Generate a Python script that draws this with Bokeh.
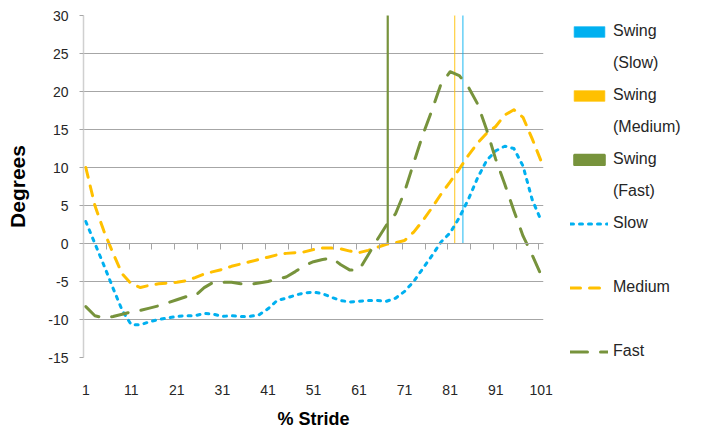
from bokeh.plotting import figure
from bokeh.models import Range1d, FixedTicker, LinearAxis, Legend, LegendItem, ColumnDataSource
from bokeh.embed import file_html
from bokeh.resources import INLINE

# ---- data -----------------------------------------------------------------
stride = list(range(1, 102, 2))  # % stride sample positions

slow = [2.9, 0.0, -2.9, -5.9, -8.8, -10.7, -10.7, -10.3, -10.0, -9.8,
        -9.6, -9.5, -9.5, -9.2, -9.3, -9.6, -9.5, -9.6, -9.6, -9.4,
        -8.6, -7.5, -7.2, -6.8, -6.5, -6.4, -6.6, -7.1, -7.5, -7.7,
        -7.6, -7.5, -7.5, -7.6, -7.2, -6.3, -5.0, -3.3, -1.6, 0.2,
        1.4, 3.4, 5.8, 8.6, 10.9, 12.2, 12.8, 12.5, 10.2, 5.8,
        3.0]

medium = [10.0, 5.0, 1.6, -1.3, -4.0, -5.3, -5.8, -5.5, -5.3, -5.2,
          -5.1, -4.9, -4.5, -4.0, -3.7, -3.4, -3.0, -2.7, -2.4, -2.1,
          -1.8, -1.5, -1.3, -1.2, -1.1, -0.8, -0.6, -0.6, -0.7, -1.0,
          -1.2, -0.9, -0.5, -0.1, 0.1, 0.4, 1.5, 3.0, 4.7, 6.5,
          8.1, 9.8, 11.6, 13.2, 14.5, 15.4, 16.9, 17.6, 16.6, 13.8,
          10.8]

fast = [-8.3, -9.5, -9.8, -9.6, -9.3, -9.0, -8.8, -8.5, -8.2, -7.8,
        -7.4, -7.0, -6.9, -5.8, -5.1, -5.1, -5.1, -5.3, -5.4, -5.2,
        -5.0, -4.7, -4.4, -3.7, -2.9, -2.4, -2.1, -1.9, -2.8, -3.5,
        -3.5, -1.5, 0.5, 2.4, 3.9, 6.8, 10.6, 14.3, 17.5, 21.0,
        22.6, 22.1, 20.6, 18.4, 15.0, 11.1, 7.8, 4.3, 1.0, -1.5,
        -4.2]

swing_names = ["(Slow)", "(Medium)", "(Fast)"]
swing_stride = [83.8, 82.0, 67.3]
swing_bottom = [0, 0, 0]
swing_top = [30, 30, 30]

x_tick_labels = [1, 11, 21, 31, 41, 51, 61, 71, 81, 91, 101]
x_tick_marks = [5.5, 10.5, 15.5, 20.5, 25.5, 30.5, 35.5, 40.5, 45.5, 50.5,
                55.5, 60.5, 65.5, 70.5, 75.5, 80.5, 85.5, 90.5, 95.5, 100.5]
y_ticks = [-15, -10, -5, 0, 5, 10, 15, 20, 25, 30]

# ---- style ----------------------------------------------------------------
BLUE = "#00B0F0"
ORANGE = "#FFC000"
GREEN = "#77933C"
GRID = "#A6A6A6"
FONT = "Liberation Sans"
TXT = "#262626"

p = figure(frame_width=460, frame_height=342,
           x_range=Range1d(0.5, 101.5), y_range=Range1d(-15, 30),
           output_backend="svg", toolbar_location=None,
           min_border_left=83, min_border_right=149,
           min_border_top=15, min_border_bottom=75)
p.outline_line_color = None
p.background_fill_color = "white"
p.border_fill_color = "white"

p.xgrid.visible = False
p.ygrid.ticker = FixedTicker(ticks=y_ticks)
p.ygrid.grid_line_color = GRID
p.ygrid.grid_line_width = 1

# y axis
p.yaxis.ticker = FixedTicker(ticks=y_ticks)
p.yaxis.major_label_overrides = {t: str(t) for t in y_ticks}
p.yaxis.axis_line_color = "#D0D0D0"
p.yaxis.axis_line_width = 1.5
p.yaxis.major_tick_out = 4
p.yaxis.major_tick_in = 0
p.yaxis.major_tick_line_color = GRID
p.yaxis.minor_tick_line_color = None
p.yaxis.major_label_standoff = 11
p.yaxis.major_label_text_font = FONT
p.yaxis.major_label_text_font_size = "14px"
p.yaxis.major_label_text_color = TXT
p.yaxis.axis_label = "Degrees"
p.yaxis.axis_label_text_font = FONT
p.yaxis.axis_label_text_font_style = "bold"
p.yaxis.axis_label_text_font_size = "21px"
p.yaxis.axis_label_text_color = "black"
p.yaxis.axis_label_standoff = 16

# x axis (labels only)
p.xaxis.ticker = FixedTicker(ticks=x_tick_labels)
p.xaxis.axis_line_color = None
p.xaxis.major_tick_line_color = None
p.xaxis.minor_tick_line_color = None
p.xaxis.major_tick_out = 0
p.xaxis.major_tick_in = 0
p.xaxis.major_label_standoff = 27
p.xaxis.major_label_text_font = FONT
p.xaxis.major_label_text_font_size = "14px"
p.xaxis.major_label_text_color = TXT
p.xaxis.axis_label = "% Stride"
p.xaxis.axis_label_text_font = FONT
p.xaxis.axis_label_text_font_style = "bold"
p.xaxis.axis_label_text_font_size = "18px"
p.xaxis.axis_label_text_color = "black"
p.xaxis.axis_label_standoff = 11

# category axis line at y = 0 with downward tick marks
zero_axis = LinearAxis(fixed_location=0,
                       ticker=FixedTicker(ticks=x_tick_marks),
                       axis_line_color=GRID, axis_line_width=1,
                       major_tick_in=6, major_tick_out=0,
                       major_tick_line_color=GRID,
                       minor_tick_line_color=None,
                       major_label_standoff=0,
                       major_label_text_font_size="0px",
                       major_label_overrides={t: "" for t in x_tick_marks})
p.add_layout(zero_axis, "above")

# swing markers (vertical bars)
swing_src = ColumnDataSource(dict(x=swing_stride, bottom=swing_bottom, top=swing_top,
                                  color=[BLUE, ORANGE, GREEN],
                                  lw=[1.2, 1.2, 2.2], la=[0.75, 0.75, 1.0]))
r_swing = p.vbar(x="x", bottom="bottom", top="top", width=0.0001, source=swing_src,
                 fill_color="color", line_color="color", line_width="lw", line_alpha="la")

# curves
r_slow = p.line(stride, slow, line_color=BLUE, line_width=3, line_dash="3 6",
                line_cap="round", line_join="round")
r_med = p.line(stride, medium, line_color=ORANGE, line_width=3, line_dash="10 9",
               line_cap="round", line_join="round")
r_fast = p.line(stride, fast, line_color=GREEN, line_width=3, line_dash="17 13",
                line_cap="round", line_join="round")

# invisible renderer for spacer legend rows
r_blank = p.vbar(x=[], top=[], width=0, fill_alpha=0, line_alpha=0)

items = [
    LegendItem(label="Swing", renderers=[r_swing], index=0),
    LegendItem(label=swing_names[0], renderers=[r_blank]),
    LegendItem(label="Swing", renderers=[r_swing], index=1),
    LegendItem(label=swing_names[1], renderers=[r_blank]),
    LegendItem(label="Swing", renderers=[r_swing], index=2),
    LegendItem(label=swing_names[2], renderers=[r_blank]),
    LegendItem(label="Slow", renderers=[r_slow]),
    LegendItem(label=" ", renderers=[r_blank]),
    LegendItem(label="Medium", renderers=[r_med]),
    LegendItem(label=" ", renderers=[r_blank]),
    LegendItem(label="Fast", renderers=[r_fast]),
]
legend = Legend(items=items, location=(27, -10),
                glyph_width=38, glyph_height=13, label_standoff=5,
                label_height=32, spacing=0, padding=0, margin=0,
                border_line_color=None, background_fill_alpha=0,
                label_text_font=FONT, label_text_font_size="16px",
                label_text_color=TXT)
p.add_layout(legend, "right")

open("out.html", "w").write(file_html(p, INLINE))
